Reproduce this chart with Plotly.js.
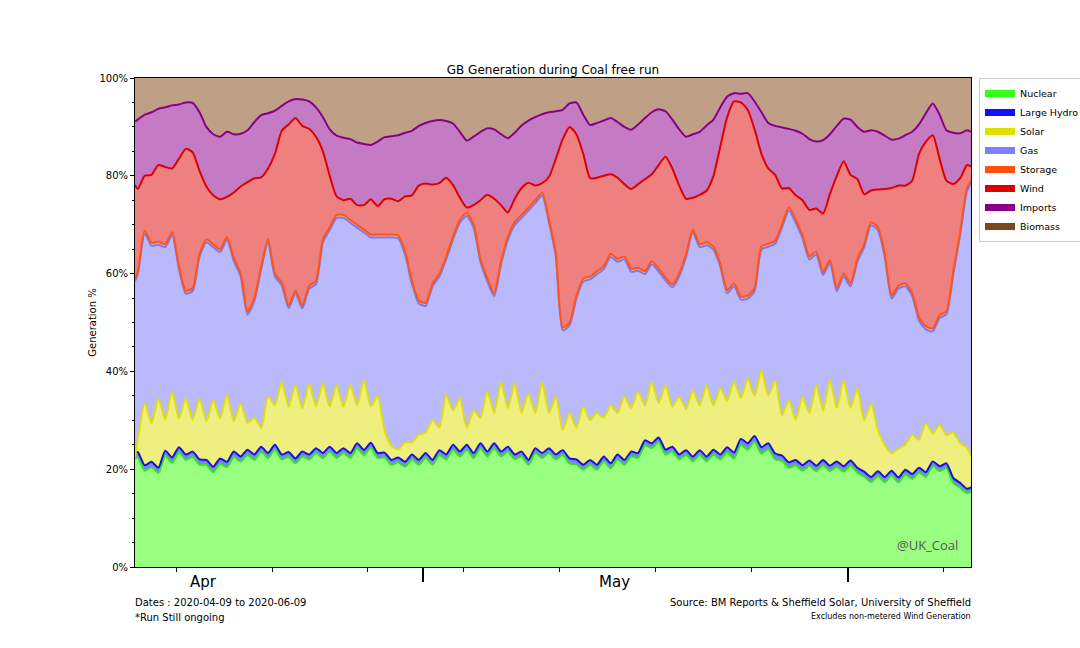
<!DOCTYPE html>
<html><head><meta charset="utf-8">
<script src="https://cdn.plot.ly/plotly-3.0.1.min.js"></script>
<style>html,body{margin:0;padding:0;background:#fff}#chart{width:1080px;height:648px}</style>
</head><body><div id="chart"></div>
<script>
// ---------- data ----------
const seriesNames = ['Nuclear','Large Hydro','Solar','Gas','Storage','Wind','Imports','Biomass'];
const runStart = '2020-04-10';
const runEnd = '2020-06-10';
const monthLabels = ['Apr','May'];
const monthLabelDates = ['2020-04-15','2020-05-15'];
const monthStarts = ['2020-05-01','2020-06-01'];
const weekStarts = ['2020-04-13','2020-04-20','2020-04-27','2020-05-04','2020-05-11','2020-05-18','2020-05-25','2020-06-01','2020-06-08'];
const yTickValues = [0,20,40,60,80,100];
const yTickLabels = ['0%','20%','40%','60%','80%','100%'];

// cumulative generation share (%) – sampled at run start, then 05:00 and 17:00 each day, then run end
const nuclearTop = [22.3,
 22.4,19.7, 20.4,19.2, 22.7,21.3, 23.4,21.9, 22.5,20.9,
 20.9,19.4, 21.1,20.4, 22.5,21.5, 22.9,21.9, 23.6,22.3,
 24.0,22.0, 22.5,21.2, 22.6,22.0, 23.3,22.3, 23.6,22.3,
 23.3,22.3, 24.3,22.9, 24.4,22.3, 22.4,20.9, 21.4,20.5,
 22.0,20.9, 22.3,20.9, 22.9,22.0, 24.0,22.6, 24.0,22.3,
 24.3,22.6, 24.3,22.6, 23.6,22.0, 22.6,20.9, 23.3,22.3,
 23.3,22.0, 22.9,21.2, 21.0,19.9, 20.9,19.9, 21.6,20.2,
 22.0,20.9, 22.6,22.3, 24.9,24.3, 25.5,23.0, 23.6,22.0,
 22.9,21.6, 22.9,21.6, 23.0,22.0, 23.4,22.2, 25.0,24.0,
 25.6,23.2, 24.1,22.0, 21.7,20.3, 20.8,19.7, 20.7,19.6,
 20.8,19.6, 20.5,19.5, 20.7,19.3, 18.5,17.4, 18.6,17.4,
 18.7,17.3, 18.9,18.0, 19.3,18.4, 20.6,19.6, 20.2,17.2,
 16.2,15.1,
 15.4];
const hydroTop = [23.5,
 23.5,20.8, 21.5,20.3, 23.8,22.4, 24.5,23.0, 23.6,22.0,
 21.9,20.5, 22.2,21.5, 23.6,22.6, 24.0,23.0, 24.6,23.3,
 25.0,23.0, 23.5,22.2, 23.6,23.0, 24.3,23.3, 24.6,23.3,
 24.3,23.3, 25.3,23.9, 25.4,23.3, 23.4,21.9, 22.4,21.5,
 23.0,21.9, 23.3,21.9, 23.9,23.0, 25.0,23.6, 25.0,23.3,
 25.3,23.6, 25.3,23.6, 24.6,23.0, 23.6,21.9, 24.3,23.3,
 24.3,23.0, 23.9,22.2, 22.0,20.9, 21.9,20.9, 22.6,21.2,
 23.0,21.9, 23.6,23.3, 25.9,25.3, 26.5,24.0, 24.6,23.0,
 23.9,22.6, 23.9,22.6, 24.0,23.0, 24.5,23.4, 26.2,25.3,
 26.8,24.5, 25.3,23.2, 22.8,21.4, 21.9,20.8, 21.8,20.7,
 21.9,20.7, 21.6,20.6, 21.8,20.3, 19.5,18.4, 19.6,18.4,
 19.7,18.3, 19.9,19.0, 20.3,19.4, 21.6,20.6, 21.2,18.2,
 17.2,16.0,
 16.3];
const solarTop = [22.5,
 26.0,33.5, 29.4,34.5, 30.1,35.9, 30.4,34.5, 30.1,34.5,
 29.8,34.2, 30.4,35.2, 29.8,33.5, 29.5,30.5, 28.5,34.8,
 33.1,37.9, 32.8,37.2, 32.4,37.6, 32.8,37.6, 32.8,37.2,
 32.8,37.2, 33.1,38.2, 32.8,35.0, 28.0,24.8, 24.0,25.5,
 25.5,27.0, 27.5,30.0, 28.5,35.2, 32.0,34.5, 28.5,32.0,
 30.5,35.9, 31.5,37.9, 32.5,37.6, 31.5,35.5, 31.5,37.9,
 31.5,34.8, 28.0,31.5, 28.5,32.8, 30.0,31.5, 30.5,33.1,
 31.5,34.8, 32.5,35.9, 33.0,37.9, 33.5,37.2, 32.8,34.8,
 32.3,36.2, 33.0,37.2, 33.1,36.5, 34.0,37.9, 34.5,38.6,
 35.0,40.3, 35.0,38.2, 31.0,34.2, 30.0,34.8, 31.5,37.2,
 32.0,38.2, 32.5,38.2, 32.5,36.5, 30.0,33.5, 28.0,25.0,
 23.2,24.2, 25.0,27.0, 26.0,29.4, 27.3,29.1, 27.0,27.5,
 25.3,24.4,
 22.7];
const gasTop = [58.4,
 59.9,68.2, 65.7,65.9, 65.4,67.9, 60.9,55.9, 56.4,63.4,
 66.4,65.4, 64.4,66.9, 62.6,59.4, 51.6,54.4, 60.9,66.4,
 59.4,57.6, 52.9,55.9, 52.9,56.9, 57.9,66.4, 68.9,71.4,
 71.4,70.4, 69.4,68.4, 67.4,67.4, 67.4,67.4, 67.2,63.9,
 57.9,53.9, 53.4,57.4, 59.4,62.9, 67.0,70.4, 71.8,69.4,
 62.4,58.4, 55.4,61.9, 66.9,69.9, 71.4,72.9, 74.4,75.9,
 70.4,63.4, 48.4,49.4, 54.9,58.4, 58.8,59.9, 60.9,63.4,
 62.4,62.9, 60.4,60.6, 59.9,61.9, 60.4,58.6, 57.2,59.4,
 63.4,68.4, 65.4,65.8, 64.9,61.4, 56.0,57.4, 54.7,54.9,
 56.4,64.9, 65.5,66.1, 69.4,72.9, 70.4,67.2, 62.9,63.9,
 59.7,62.2, 56.4,59.4, 57.4,62.4, 65.4,69.9, 68.9,63.4,
 54.9,56.9, 57.4,55.4, 50.4,48.6, 48.2,50.9, 51.7,59.9,
 67.9,76.9,
 78.4];
const storageTop = [59.0,
 60.5,68.8, 66.3,66.5, 66.0,68.5, 61.5,56.5, 57.0,64.0,
 67.0,66.0, 65.0,67.5, 63.2,60.0, 52.2,55.0, 61.5,67.0,
 60.0,58.2, 53.5,56.5, 53.5,57.5, 58.5,67.0, 69.5,72.0,
 72.0,71.0, 70.0,69.0, 68.0,68.0, 68.0,68.0, 67.8,64.5,
 58.5,54.5, 54.0,58.0, 60.0,63.5, 67.6,71.0, 72.4,70.0,
 63.0,59.0, 56.0,62.5, 67.5,70.5, 72.0,73.5, 75.0,76.5,
 71.0,64.0, 49.0,50.0, 55.5,59.0, 59.4,60.5, 61.5,64.0,
 63.0,63.5, 61.0,61.2, 60.5,62.5, 61.0,59.2, 57.8,60.0,
 64.0,69.0, 66.0,66.4, 65.5,62.0, 56.6,58.0, 55.3,55.5,
 57.0,65.5, 66.1,66.7, 70.0,73.5, 71.0,67.8, 63.5,64.5,
 60.3,62.8, 57.0,60.0, 58.0,63.0, 66.0,70.5, 69.5,64.0,
 55.5,57.5, 58.0,56.0, 51.0,49.2, 48.8,51.5, 52.3,60.5,
 68.5,77.5,
 79.0];
const windTop = [78.1,
 77.3,80.0, 80.2,82.2, 81.8,81.5, 83.5,85.5, 84.8,81.0,
 77.8,76.0, 75.2,75.7, 76.6,77.8, 78.7,79.5, 79.7,81.5,
 84.5,89.2, 90.5,91.8, 90.2,89.6, 88.0,85.0, 80.0,75.8,
 75.0,75.3, 74.0,74.0, 75.2,73.8, 75.2,75.3, 74.8,75.8,
 76.0,78.0, 78.4,78.2, 78.5,79.6, 78.1,75.5, 73.5,74.0,
 75.0,76.1, 75.3,74.0, 72.5,75.3, 77.5,78.6, 78.0,78.5,
 79.8,83.5, 87.5,90.0, 88.5,84.5, 79.5,79.6, 80.0,80.3,
 79.6,78.3, 77.3,78.3, 79.3,80.3, 82.2,83.9, 81.5,78.0,
 75.3,75.5, 76.1,77.0, 80.0,86.0, 92.0,95.2, 95.0,93.5,
 89.5,84.5, 81.5,80.2, 77.4,77.5, 76.0,75.0, 73.0,73.3,
 72.3,76.3, 80.0,83.0, 80.2,79.3, 76.2,77.0, 77.2,77.3,
 77.5,78.0, 78.0,79.0, 84.5,87.0, 88.3,83.5, 79.0,78.3,
 79.5,82.2,
 81.9];
const importsTop = [91.1,
 91.5,92.5, 93.0,93.7, 94.0,94.4, 94.6,95.0, 94.9,93.0,
 90.0,88.5, 88.0,89.0, 88.5,88.6, 89.3,91.0, 92.4,92.8,
 93.3,94.3, 95.2,95.7, 95.6,95.2, 94.0,92.0, 89.5,88.2,
 87.8,87.5, 86.8,86.5, 86.3,87.0, 87.9,88.1, 88.3,88.8,
 89.2,90.2, 90.8,91.2, 91.4,91.2, 90.7,89.0, 87.2,88.0,
 89.0,89.7, 89.5,88.5, 87.7,88.8, 90.3,91.3, 92.0,92.6,
 93.0,93.2, 93.5,94.8, 95.0,92.5, 90.4,90.8, 91.3,91.8,
 91.0,90.0, 89.4,90.5, 91.8,93.0, 93.6,93.2, 91.5,89.5,
 88.0,88.5, 89.0,90.3, 91.5,94.0, 96.2,96.9, 96.8,96.9,
 95.2,93.0, 90.8,90.2, 89.9,89.6, 89.2,88.6, 87.5,87.0,
 87.3,88.5, 90.2,91.7, 91.5,90.0, 89.0,89.3, 89.0,88.2,
 87.4,87.6, 88.3,89.0, 90.5,92.8, 94.8,92.5, 89.3,88.8,
 88.7,89.3,
 89.0];
// Biomass fills the remainder up to 100 %.

// ---------- sampling times ----------
function stamp(dayOffset){
  const ms = Date.UTC(2020,3,10) + dayOffset*86400000;
  return new Date(ms).toISOString().slice(0,16).replace('T',' ');
}
const sampleX = [stamp(0)];
for (let d = 0; d < 61; d++){ sampleX.push(stamp(d+5/24), stamp(d+17/24)); }
sampleX.push(stamp(61));

// ---------- styles ----------
const legendColors = ['#33ff1a','#1010ff','#e0e000','#7f7fff','#ff5010','#dd0000','#880088','#80461b'];
const lineColors   = ['#33e61a','#1414d8','#dede10','#7a7aee','#ff5418','#dd0000','#880088'];
const fillColors   = ['#99ff80','#8080ff','#efef80','#b9b9fc','#ffa888','#ee8080','#c47bc4'];
const biomassFill  = '#bfa087';
const font = 'DejaVu Sans';

const bounds = [nuclearTop, hydroTop, solarTop, gasTop, storageTop, windTop, importsTop];

const traces = bounds.map((y,i) => ({
  type:'scatter', mode:'lines', x:sampleX, y:y, name:seriesNames[i],
  line:{color:lineColors[i], width:2, shape:'spline', smoothing:0.6},
  fill: i===0 ? 'tozeroy' : 'tonexty', fillcolor: fillColors[i],
  showlegend:false, hoverinfo:'skip'
}));
seriesNames.forEach((n,i) => traces.push({
  type:'scatter', mode:'lines', x:[null], y:[null], name:n,
  line:{color:legendColors[i], width:7}, showlegend:true, hoverinfo:'skip'
}));

const annotations = monthLabels.map((t,i) => ({
  text:t, xref:'x', x:monthLabelDates[i], yref:'paper', y:0, yshift:-15,
  yanchor:'middle', xanchor:'center', showarrow:false, font:{family:font, size:15, color:'#000'}
}));
annotations.push(
  {text:'Dates : 2020-04-09 to 2020-06-09', xref:'paper', x:0, xanchor:'left', xshift:-2, yref:'paper', y:0, yshift:-35, yanchor:'middle', showarrow:false, font:{family:font,size:10,color:'#000'}},
  {text:'*Run Still ongoing', xref:'paper', x:0, xanchor:'left', xshift:-2, yref:'paper', y:0, yshift:-50, yanchor:'middle', showarrow:false, font:{family:font,size:10,color:'#000'}},
  {text:'Source: BM Reports & Sheffield Solar, University of Sheffield', xref:'paper', x:1, xanchor:'right', xshift:2, yref:'paper', y:0, yshift:-35, yanchor:'middle', showarrow:false, font:{family:font,size:10,color:'#000'}},
  {text:'Excludes non-metered Wind Generation', xref:'paper', x:1, xanchor:'right', xshift:2, yref:'paper', y:0, yshift:-49, yanchor:'middle', showarrow:false, font:{family:font,size:8,color:'#000'}},
  {text:'@UK_Coal', xref:'paper', x:0.9868, xanchor:'right', yref:'paper', y:0.045, yanchor:'middle', showarrow:false, font:{family:'Open Sans',size:13,color:'#555555'}}
);

const layout = {
  width:1080, height:648,
  margin:{l:135, r:109, t:78, b:81, autoexpand:false},
  paper_bgcolor:'#ffffff', plot_bgcolor:biomassFill,
  font:{family:font, size:10, color:'#000'},
  title:{text:'GB Generation during Coal free run', font:{family:font,size:12,color:'#000'},
         x:0.5, xref:'paper', xanchor:'center', y:1, yref:'paper', yanchor:'bottom', pad:{b:4}},
  xaxis:{type:'date', range:[runStart, runEnd], showgrid:false, zeroline:false,
         showline:true, mirror:true, linecolor:'#000', linewidth:1,
         tickmode:'array', tickvals:monthStarts, showticklabels:false,
         ticks:'outside', ticklen:14, tickwidth:2, tickcolor:'#000',
         minor:{tickmode:'array', tickvals:weekStarts, ticks:'outside', ticklen:4, tickwidth:1, tickcolor:'#000', showgrid:false}},
  yaxis:{range:[0,100], showgrid:false, zeroline:false,
         showline:true, mirror:true, linecolor:'#000', linewidth:1,
         tickmode:'array', tickvals:yTickValues, ticktext:yTickLabels,
         ticks:'outside', ticklen:4, tickwidth:1, tickcolor:'#000',
         tickfont:{family:font,size:10,color:'#000'},
         minor:{tickmode:'linear', tick0:0, dtick:5, ticks:'outside', ticklen:2, tickwidth:1, tickcolor:'#000', showgrid:false},
         title:{text:'Generation %', font:{family:font,size:10,color:'#000'}, standoff:0}},
  legend:{x:1.0096, xanchor:'left', y:1, yanchor:'top', bgcolor:'#ffffff', bordercolor:'#cccccc', borderwidth:1,
          traceorder:'normal', font:{family:font,size:9.5,color:'#000'}, tracegroupgap:0},
  annotations:annotations,
  showlegend:true, hovermode:false
};

Plotly.newPlot('chart', traces, layout, {staticPlot:true, displayModeBar:false});
</script>
</body></html>
